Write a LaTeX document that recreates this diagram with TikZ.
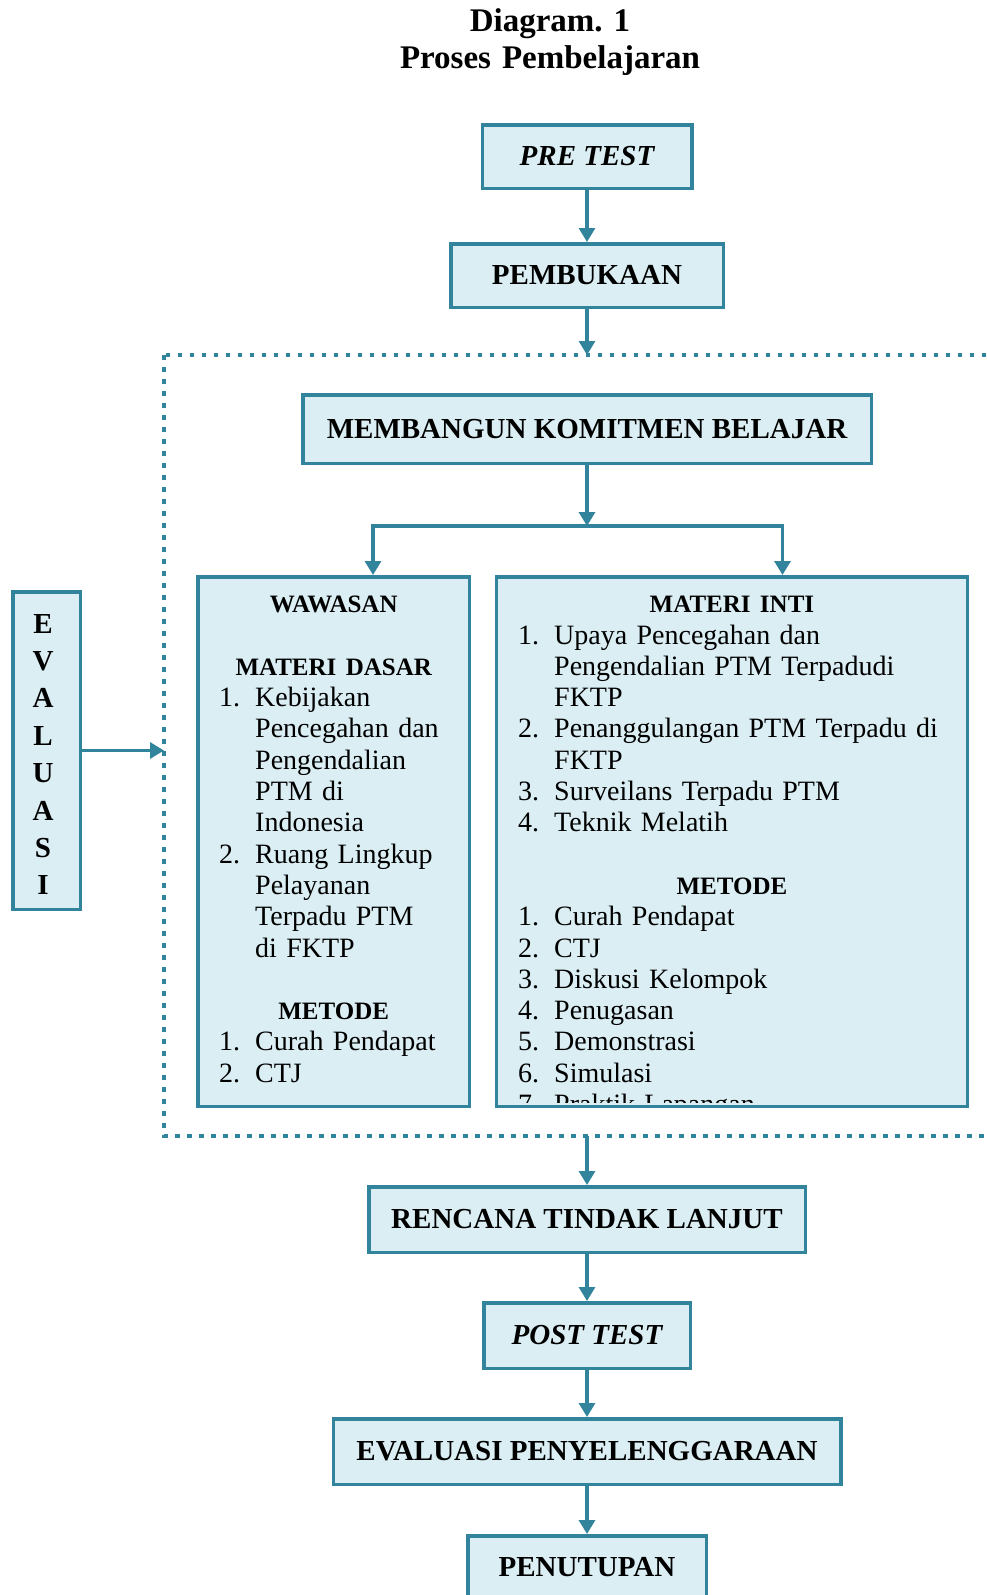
\documentclass[tikz,border=0pt]{standalone}
\usepackage{fontspec}
\setmainfont{Liberation Serif}
\usetikzlibrary{arrows.meta,positioning}
\definecolor{tealline}{HTML}{31849B}
\definecolor{tealfill}{HTML}{DAEEF3}
\tikzset{main box/.style={rectangle,draw=tealline,fill=tealfill,line width=3.5pt,inner sep=0pt},
         box title/.style={font=\fontsize{29}{34}\selectfont\bfseries},
         list text/.style={inner sep=0pt,align=left,font=\fontsize{28}{31.3}\selectfont},
         arr/.style={draw=tealline,line width=3.2pt,-{Triangle[length=14pt,width=16pt]}},
         dotted frame/.style={draw=tealline,line width=4.5pt,dash pattern=on 4.5pt off 7.5pt}
}
\newcommand{\itm}[2]{\makebox[36pt][l]{#1}#2}
\newcommand{\cnt}[1]{\hspace*{36pt}#1}
\newcommand{\hd}[1]{\makebox[\hsize][c]{\fontsize{25}{31.3}\selectfont\bfseries #1}}
\frenchspacing

\begin{document}
\begin{tikzpicture}[x=1pt,y=-1pt]
    \clip (0,0) rectangle (986,1595);

    % judul
    \node[inner sep=0pt,text width=400,align=center,anchor=base,font=\fontsize{33}{36.7}\selectfont\bfseries] (judul) at (550,31.7)
        {Diagram. 1\\Proses Pembelajaran};

    \node[main box,box title,minimum width=209.5,minimum height=63.5] (pretest) at (587,156.5) {\itshape PRE TEST};
    \node[main box,box title,minimum width=272.5,minimum height=63.5] (pembukaan) at (587,275.5) {PEMBUKAAN};

    % kotak titik-titik
    \draw[dotted frame] (164,355) rectangle (1000,1136);
    \coordinate (ftop) at (587,355);
    \coordinate (fbot) at (587,1136);
    \coordinate (fleft) at (164,755);

    \node[main box,box title,minimum width=568.5,minimum height=68.5] (komitmen) at (587,429) {MEMBANGUN KOMITMEN BELAJAR};

    \node[main box,minimum width=271.5,minimum height=529.5] (wawasan) at (333.5,841.5) {};
    \node[main box,minimum width=471,minimum height=529.5] (inti) at (731.75,841.5) {};

    \node[list text,text width=229,anchor=base west] (wawasantext) at (219,612.7) {%
        \hd{WAWASAN}\\[31.3pt]
        \hd{MATERI DASAR}\\
        \itm{1.}{Kebijakan}\\
        \cnt{Pencegahan dan}\\
        \cnt{Pengendalian}\\
        \cnt{PTM di}\\
        \cnt{Indonesia}\\
        \itm{2.}{Ruang Lingkup}\\
        \cnt{Pelayanan}\\
        \cnt{Terpadu PTM}\\
        \cnt{di FKTP}\\[31.3pt]
        \hd{METODE}\\
        \itm{1.}{Curah Pendapat}\\
        \itm{2.}{CTJ}};

    \begin{scope}
        \clip (496,577) rectangle (967,1102);
        \node[list text,text width=427.5,anchor=base west] (intitext) at (518,612.7) {%
            \hd{MATERI INTI}\\
            \itm{1.}{Upaya Pencegahan dan}\\
            \cnt{Pengendalian PTM Terpadudi}\\
            \cnt{FKTP}\\
            \itm{2.}{Penanggulangan PTM Terpadu di}\\
            \cnt{FKTP}\\
            \itm{3.}{Surveilans Terpadu PTM}\\
            \itm{4.}{Teknik Melatih}\\[31.3pt]
            \hd{METODE}\\
            \itm{1.}{Curah Pendapat}\\
            \itm{2.}{CTJ}\\
            \itm{3.}{Diskusi Kelompok}\\
            \itm{4.}{Penugasan}\\
            \itm{5.}{Demonstrasi}\\
            \itm{6.}{Simulasi}\\
            \itm{7.}{Praktik Lapangan}};
    \end{scope}

    \node[main box,minimum width=67.5,minimum height=317.5] (evaluasi) at (46.5,750.5) {};
    \node[inner sep=0pt,text width=40,align=center,anchor=base,font=\fontsize{29}{37.4}\selectfont\bfseries] (evalhuruf) at (43,633)
        {E\\V\\A\\L\\U\\A\\S\\I};

    \node[main box,box title,minimum width=436.5,minimum height=65.5] (rtl) at (587,1219.5) {RENCANA TINDAK LANJUT};
    \node[main box,box title,minimum width=206.5,minimum height=65.5] (posttest) at (587,1335.5) {\itshape POST TEST};
    \node[main box,box title,minimum width=507.5,minimum height=65.5] (evalpen) at (587,1451.5) {EVALUASI PENYELENGGARAAN};
    \node[main box,box title,minimum width=238.5,minimum height=63.5] (penutupan) at (587,1567.5) {PENUTUPAN};

    % panah
    \coordinate (cabang) at (587,526);
    \draw[arr] (pretest.south) -- (pembukaan.north);
    \draw[arr] (pembukaan.south) -- (ftop);
    \draw[arr] (komitmen.south) -- (cabang);
    \draw[arr] (cabang) -| (373,575);
    \draw[arr] (cabang) -| (782.5,575);
    \draw[arr] (evaluasi.east) -- (evaluasi.east -| fleft);
    \draw[arr] (fbot) -- (rtl.north);
    \draw[arr] (rtl.south) -- (posttest.north);
    \draw[arr] (posttest.south) -- (evalpen.north);
    \draw[arr] (evalpen.south) -- (penutupan.north);

\end{tikzpicture}
\end{document}
